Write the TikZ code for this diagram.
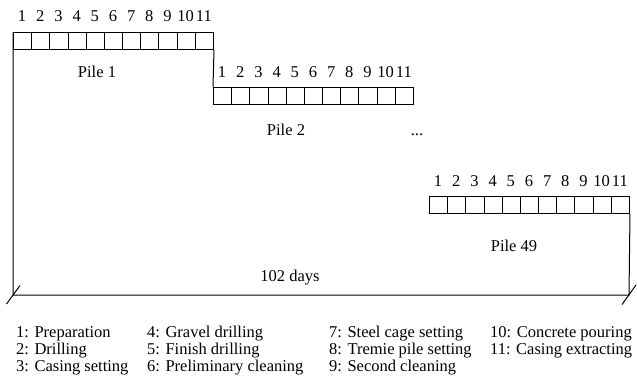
\documentclass[tikz,border=0pt]{standalone}
\usepackage{fontspec}
\setmainfont{Liberation Serif}
\newfontfamily\tnr{Liberation Serif}
\usetikzlibrary{calc}
\begin{document}
\begin{tikzpicture}[x=1pt,y=-1pt,
  every node/.style={font=\tnr\fontsize{16.5}{17}\selectfont},
  cell/.style={draw,line width=1pt,minimum width=18.18pt,minimum height=17pt,inner sep=0pt,anchor=north west},
  num/.style={anchor=base,inner sep=0pt},
  txt/.style={anchor=base,inner sep=0pt},
  leg/.style={anchor=base west,inner sep=0pt},
  ln/.style={line width=1pt}]
\useasboundingbox (0,0) rectangle (637,383);
% Pile rows
\foreach \r/\x/\y/\ly in {a/13/32/21, b/213/87/77, c/429/196/186}{
  \foreach \i in {1,...,11}{
    \node[cell] (\r\i) at ({\x+(\i-1)*18.18},\y) {};
    \node[num] (\r n\i) at ({\x+(\i-0.5)*18.18},\ly) {\i};
  }
}
\node[txt] (pile1) at (97,77) {Pile 1};
\node[txt] (pile2) at (286,135) {Pile 2};
\node[txt] (dots) at (417,135) {...};
\node[txt] (pile49) at (514,251) {Pile 49};
\node[txt] (days) at (290,281) {102 days};
% frame lines
\coordinate (bl) at (13,295);
\coordinate (br) at (629,295);
\draw[ln] (a1.north west) -- (bl) -- (br) -- (c11.south east);
\draw[ln] (a11.south east) -- (b1.north west);
\draw[ln] ($(bl)+(-6.5,9)$) -- ($(bl)+(7,-9.5)$);
\draw[ln] ($(br)+(-7,9.5)$) -- ($(br)+(7,-10)$);
% legend
\node[leg] (l1) at (16,337) {1: Preparation};
\node[leg] (l2) at (16,354) {2: Drilling};
\node[leg] (l3) at (16,371) {3: Casing setting};
\node[leg] (l4) at (147,337) {4: Gravel drilling};
\node[leg] (l5) at (147,354) {5: Finish drilling};
\node[leg] (l6) at (147,371) {6: Preliminary cleaning};
\node[leg] (l7) at (329,337) {7: Steel cage setting};
\node[leg] (l8) at (329,354) {8: Tremie pile setting};
\node[leg] (l9) at (329,371) {9: Second cleaning};
\node[leg] (l10) at (490,337) {10: Concrete pouring};
\node[leg] (l11) at (490,354) {11: Casing extracting};
\end{tikzpicture}
\end{document}
